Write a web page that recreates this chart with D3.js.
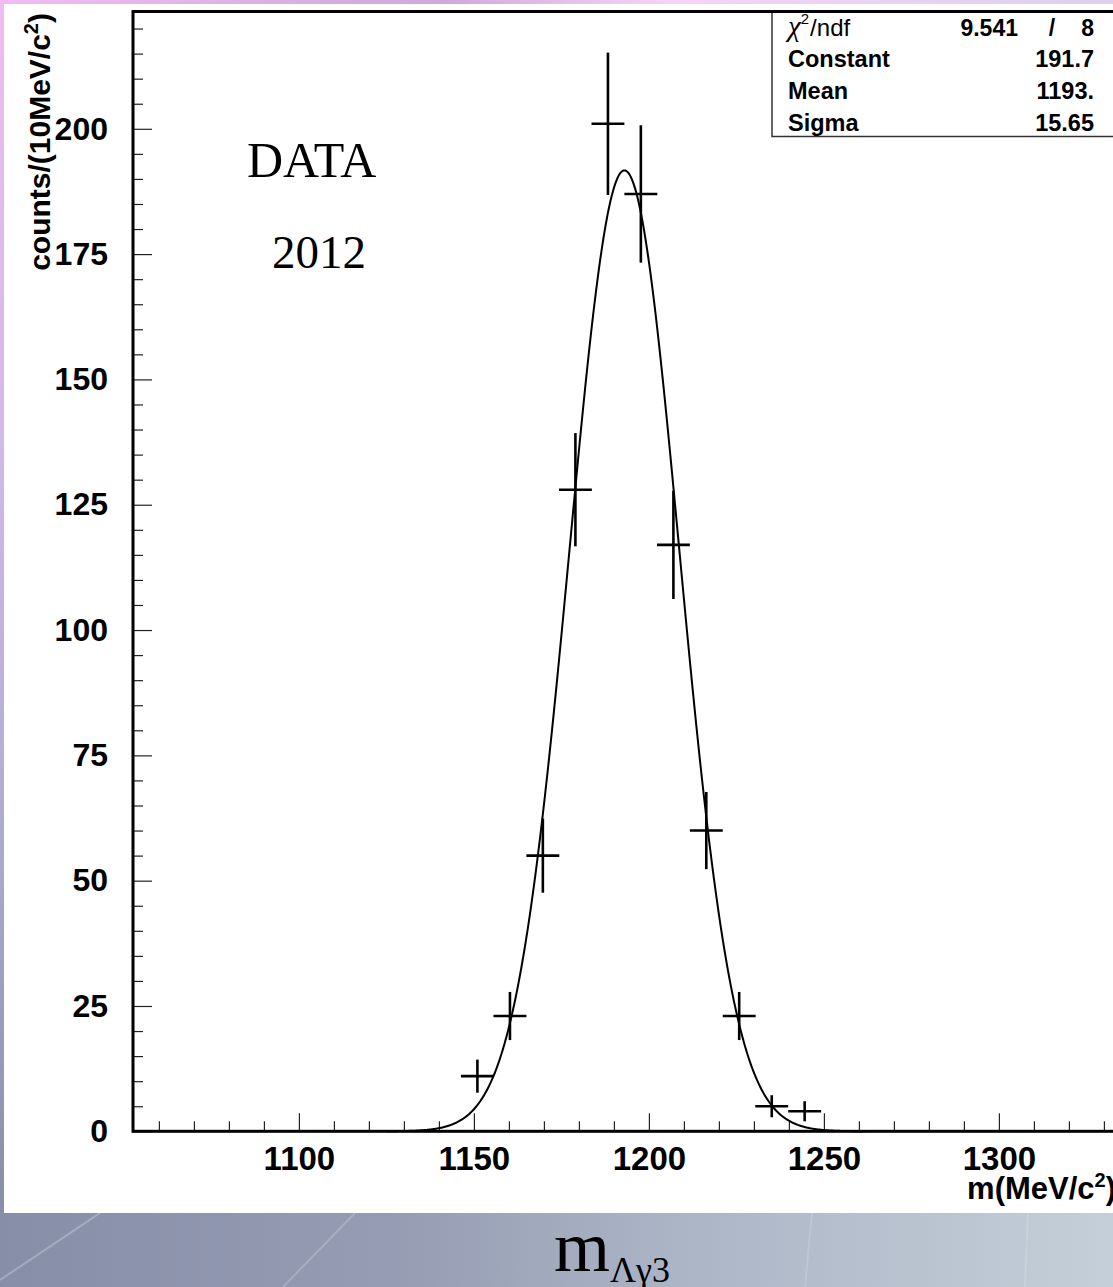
<!DOCTYPE html>
<html>
<head>
<meta charset="utf-8">
<script src="https://cdn.jsdelivr.net/npm/d3@7"></script>
<style>
body { margin: 0; overflow: hidden; background: #fff; }
</style>
</head>
<body>
<svg id="chart" width="1113" height="1287"></svg>
<script>
// histogram bins (MeV/c2), counts and their errors
var binCenters = [1151.0, 1160.3, 1169.7, 1179.0, 1188.3, 1197.7, 1207.0, 1216.4, 1225.8, 1235.1, 1244.5];
var counts = [11, 23, 55, 128, 201, 187, 117, 60, 23, 5, 4];
var errors = [3.3, 4.8, 7.4, 11.3, 14.2, 13.7, 10.8, 7.7, 4.8, 2.2, 2.0];
var binHalf = 4.7;

// axis ticks
var yMajor = [0, 25, 50, 75, 100, 125, 150, 175, 200];
var yMinor = [5, 10, 15, 20, 30, 35, 40, 45, 55, 60, 65, 70, 80, 85, 90, 95, 105, 110, 115, 120,
              130, 135, 140, 145, 155, 160, 165, 170, 180, 185, 190, 195, 205, 210, 215, 220];
var xMajor = [1100, 1150, 1200, 1250, 1300];
var xMinor = [1060, 1070, 1080, 1090, 1110, 1120, 1130, 1140, 1160, 1170, 1180, 1190,
              1210, 1220, 1230, 1240, 1260, 1270, 1280, 1290, 1310, 1320, 1330, 1340];

// fit box
var fitNames = ['Constant', 'Mean', 'Sigma'];
var fitTexts = ['191.7', '1193.', '15.65'];
var fitConstant = 191.7, fitMean = 1193, fitSigma = 15.65;
var chi2Text = '9.541', ndfText = '8';
var fitRange = [1125, 1262];

var svg = d3.select('#chart');
var defs = svg.append('defs');

// slide background
var gBottom = defs.append('linearGradient').attr('id', 'gBottom');
gBottom.append('stop').attr('offset', '0').attr('stop-color', '#878ea8');
gBottom.append('stop').attr('offset', '0.35').attr('stop-color', '#959cb3');
gBottom.append('stop').attr('offset', '0.6').attr('stop-color', '#abb4c5');
gBottom.append('stop').attr('offset', '1').attr('stop-color', '#c4cfd9');
var gTop = defs.append('linearGradient').attr('id', 'gTop');
gTop.append('stop').attr('offset', '0').attr('stop-color', '#f0bcf2');
gTop.append('stop').attr('offset', '0.4').attr('stop-color', '#cfa8dc');
gTop.append('stop').attr('offset', '0.6').attr('stop-color', '#f6d4f6');
gTop.append('stop').attr('offset', '1').attr('stop-color', '#dcd0ec');
var gLeft = defs.append('linearGradient').attr('id', 'gLeft').attr('x1', 0).attr('y1', 0).attr('x2', 0).attr('y2', 1);
gLeft.append('stop').attr('offset', '0').attr('stop-color', '#f0bcf2');
gLeft.append('stop').attr('offset', '0.35').attr('stop-color', '#d4b8ea');
gLeft.append('stop').attr('offset', '0.65').attr('stop-color', '#b2aed6');
gLeft.append('stop').attr('offset', '1').attr('stop-color', '#878ea8');

svg.append('rect').attr('x', 0).attr('y', 0).attr('width', 1113).attr('height', 1287).attr('fill', 'url(#gBottom)');
svg.append('rect').attr('x', 0).attr('y', 0).attr('width', 1113).attr('height', 1213).attr('fill', 'url(#gLeft)');
svg.append('rect').attr('x', 0).attr('y', 0).attr('width', 1113).attr('height', 4).attr('fill', 'url(#gTop)');
// faint streaks
svg.append('line').attr('x1', 0).attr('y1', 1280).attr('x2', 100).attr('y2', 1213)
    .attr('stroke', 'rgba(255,255,255,0.25)').attr('stroke-width', 2);
svg.append('line').attr('x1', 283).attr('y1', 1287).attr('x2', 355).attr('y2', 1213)
    .attr('stroke', 'rgba(255,255,255,0.2)').attr('stroke-width', 2);
svg.append('line').attr('x1', 805).attr('y1', 1287).attr('x2', 812).attr('y2', 1213)
    .attr('stroke', 'rgba(255,255,255,0.15)').attr('stroke-width', 2);
svg.append('line').attr('x1', 1025).attr('y1', 1287).attr('x2', 1028).attr('y2', 1213)
    .attr('stroke', 'rgba(255,255,255,0.15)').attr('stroke-width', 2);

// white picture
svg.append('rect').attr('x', 4).attr('y', 4).attr('width', 1109).attr('height', 1209).attr('fill', '#fff');

// scales
var x = d3.scaleLinear().domain([1052.6, 1352.6]).range([133, 1183]);
var y = d3.scaleLinear().domain([0, 223.5]).range([1131.3, 11]);

var fontAxis = '"Liberation Sans", Arial, sans-serif';

// y axis ticks
svg.append('g').attr('transform', 'translate(133,0)')
    .call(d3.axisLeft(y).tickValues(yMinor).tickSize(-10).tickFormat(''))
    .call(g => g.select('.domain').remove())
    .call(g => g.selectAll('line').attr('stroke', '#222').attr('stroke-width', 1.2));
svg.append('g').attr('transform', 'translate(133,0)')
    .call(d3.axisLeft(y).tickValues(yMajor).tickSize(-19).tickPadding(25).tickFormat(d3.format('d')))
    .call(g => g.select('.domain').remove())
    .call(g => g.selectAll('line').attr('stroke', '#222').attr('stroke-width', 1.2))
    .call(g => g.selectAll('text').attr('font-family', fontAxis).attr('font-weight', 'bold')
        .attr('font-size', 32).attr('fill', '#000'));

// x axis ticks
svg.append('g').attr('transform', 'translate(0,' + y(0) + ')')
    .call(d3.axisBottom(x).tickValues(xMinor).tickSize(-10).tickFormat(''))
    .call(g => g.select('.domain').remove())
    .call(g => g.selectAll('line').attr('stroke', '#222').attr('stroke-width', 1.2));
svg.append('g').attr('transform', 'translate(0,' + y(0) + ')')
    .call(d3.axisBottom(x).tickValues(xMajor).tickSize(-18).tickPadding(15).tickFormat(d3.format('d')))
    .call(g => g.select('.domain').remove())
    .call(g => g.selectAll('line').attr('stroke', '#222').attr('stroke-width', 1.2))
    .call(g => g.selectAll('text').attr('font-family', fontAxis).attr('font-weight', 'bold')
        .attr('font-size', 33).attr('fill', '#000'));

// fit curve
var curvePts = [];
for (let m = fitRange[0]; m <= fitRange[1]; m += 0.25) {
    curvePts.push([m, fitConstant * Math.exp(-0.5 * Math.pow((m - fitMean) / fitSigma, 2))]);
}
svg.append('path').datum(curvePts)
    .attr('d', d3.line().x(d => x(d[0])).y(d => y(d[1])))
    .attr('fill', 'none').attr('stroke', '#000').attr('stroke-width', 2);

// data crosses
var pts = binCenters.map((c, i) => ({ c: c, n: counts[i], e: errors[i] }));
var crosses = svg.append('g').attr('stroke', '#000').attr('stroke-width', 2.6);
crosses.selectAll('.ev').data(pts).enter().append('line').attr('class', 'ev')
    .attr('x1', d => x(d.c)).attr('x2', d => x(d.c))
    .attr('y1', d => y(d.n - d.e)).attr('y2', d => y(d.n + d.e));
crosses.selectAll('.eh').data(pts).enter().append('line').attr('class', 'eh')
    .attr('x1', d => x(d.c - binHalf)).attr('x2', d => x(d.c + binHalf))
    .attr('y1', d => y(d.n)).attr('y2', d => y(d.n));

// stats box
svg.append('rect').attr('x', 772).attr('y', 11.5).attr('width', 400).attr('height', 125)
    .attr('fill', '#fff').attr('stroke', '#333').attr('stroke-width', 1.5);
var chiT = svg.append('text').attr('x', 788).attr('y', 36).attr('font-family', fontAxis).attr('font-size', 24);
chiT.append('tspan').text('χ').attr('font-family', '"Liberation Serif", serif').attr('font-style', 'italic').attr('font-size', 29);
chiT.append('tspan').text('2').attr('font-size', 15).attr('dy', -12);
chiT.append('tspan').text('/ndf').attr('dy', 12).attr('dx', 1);
svg.append('text').attr('x', 1018).attr('y', 36).attr('text-anchor', 'end')
    .attr('font-family', fontAxis).attr('font-weight', 'bold').attr('font-size', 23).text(chi2Text);
svg.append('text').attr('x', 1052).attr('y', 36).attr('text-anchor', 'middle')
    .attr('font-family', fontAxis).attr('font-weight', 'bold').attr('font-size', 23).text('/');
svg.append('text').attr('x', 1094).attr('y', 36).attr('text-anchor', 'end')
    .attr('font-family', fontAxis).attr('font-weight', 'bold').attr('font-size', 23).text(ndfText);
fitNames.forEach((nm, i) => {
    svg.append('text').attr('x', 788).attr('y', 67 + i * 32)
        .attr('font-family', fontAxis).attr('font-weight', 'bold').attr('font-size', 23.5).text(nm);
    svg.append('text').attr('x', 1094).attr('y', 67 + i * 32).attr('text-anchor', 'end')
        .attr('font-family', fontAxis).attr('font-weight', 'bold').attr('font-size', 23.5).text(fitTexts[i]);
});

// frame
svg.append('rect').attr('x', 133).attr('y', 11.5).attr('width', 1200).attr('height', y(0) - 11.5)
    .attr('fill', 'none').attr('stroke', '#000').attr('stroke-width', 3);

// axis titles
var yt = svg.append('text').attr('transform', 'translate(50,13) rotate(-90)').attr('text-anchor', 'end')
    .attr('font-family', fontAxis).attr('font-weight', 'bold').attr('font-size', 30);
yt.append('tspan').text('counts/(10MeV/c');
yt.append('tspan').text('2').attr('font-size', 20).attr('dy', -12);
yt.append('tspan').text(')').attr('dy', 12);

var xt = svg.append('text').attr('x', 1116).attr('y', 1199).attr('text-anchor', 'end')
    .attr('font-family', fontAxis).attr('font-weight', 'bold').attr('font-size', 31);
xt.append('tspan').text('m(MeV/c');
xt.append('tspan').text('2').attr('font-size', 20).attr('dy', -12);
xt.append('tspan').text(')').attr('dy', 12);

// labels in the plot
svg.append('text').attr('x', 247).attr('y', 177).attr('font-family', '"Liberation Serif", "Times New Roman", serif')
    .attr('font-size', 50).text('DATA');
svg.append('text').attr('x', 272).attr('y', 268).attr('font-family', '"Liberation Serif", "Times New Roman", serif')
    .attr('font-size', 47).text('2012');

// slide caption
var cap = svg.append('text').attr('x', 554).attr('y', 1271).attr('font-family', '"Liberation Serif", "Times New Roman", serif')
    .attr('font-size', 72).attr('fill', '#000');
cap.append('tspan').text('m');
cap.append('tspan').text('Λγ3').attr('font-size', 36).attr('dy', 11);
</script>
</body>
</html>
